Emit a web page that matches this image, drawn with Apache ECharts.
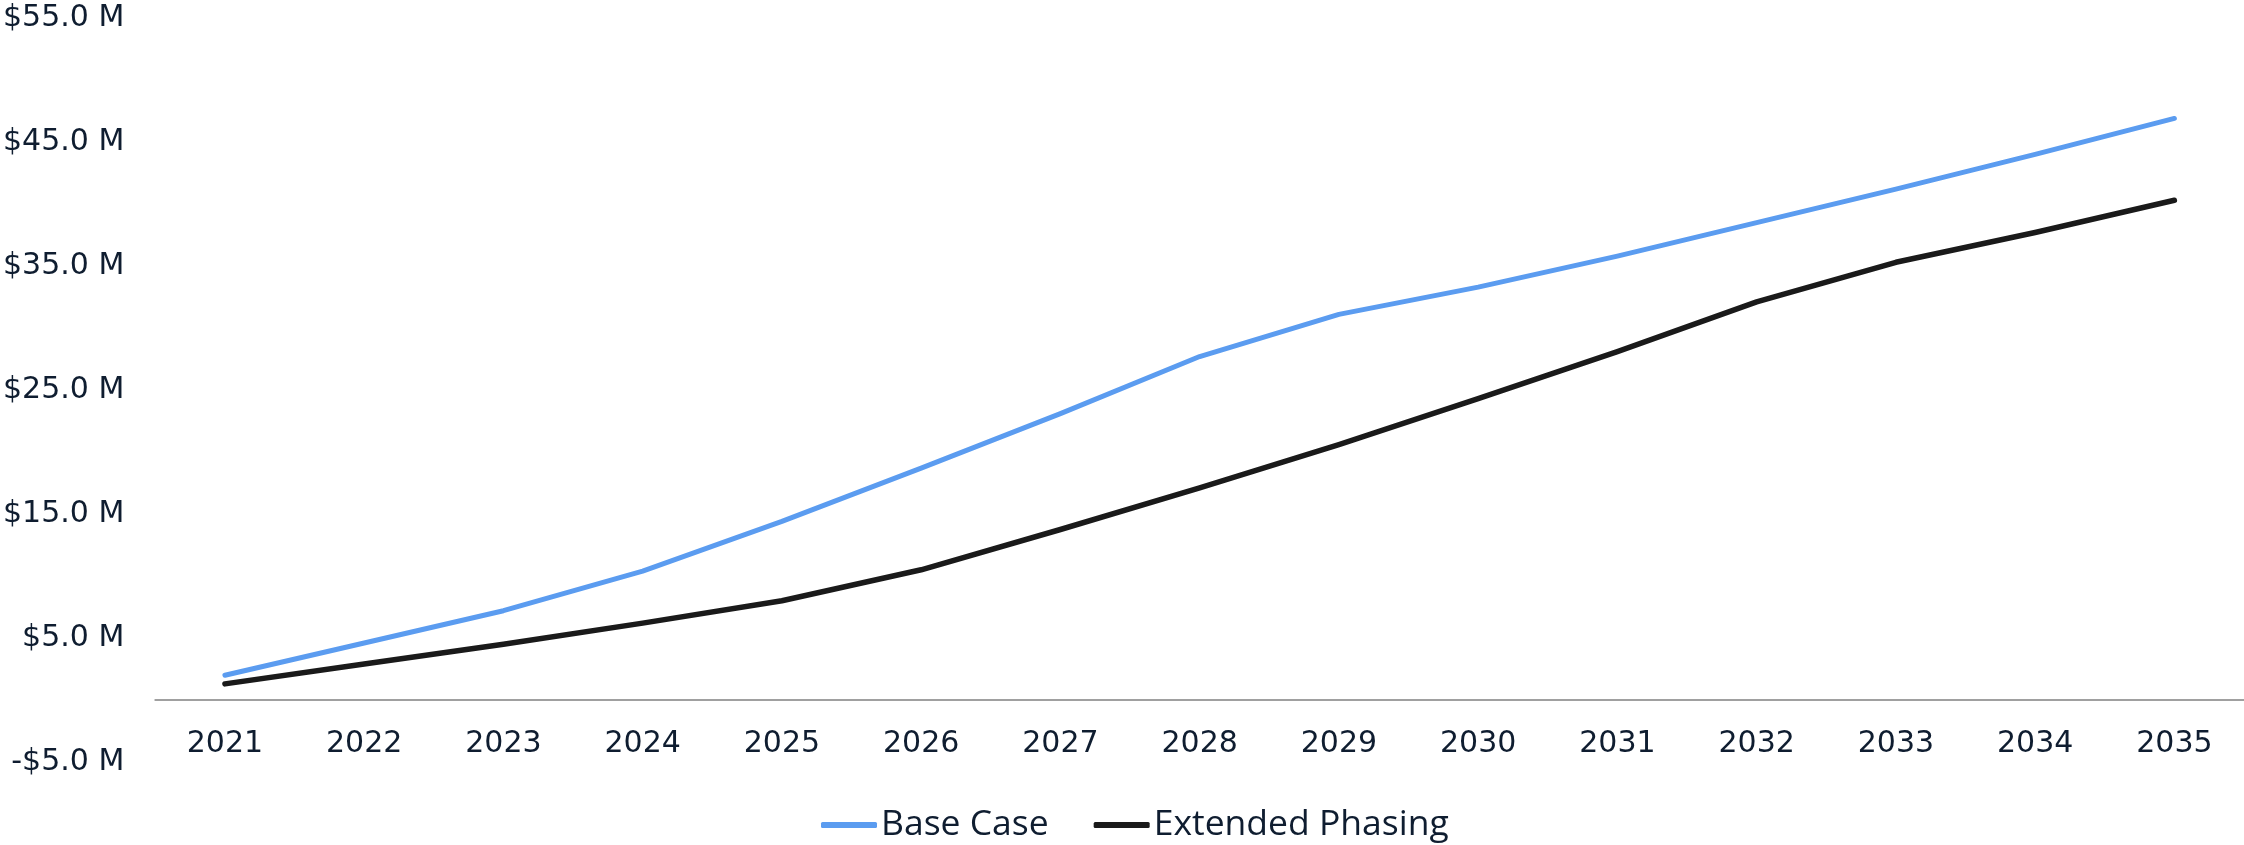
<!DOCTYPE html>
<html>
<head>
<meta charset="utf-8">
<style>
  html, body { margin: 0; padding: 0; background: #ffffff; }
  #chart { width: 2244px; height: 845px; }
</style>
<script src="https://cdn.jsdelivr.net/npm/echarts@6/dist/echarts.min.js"></script>
</head>
<body>
<div id="chart"></div>
<script>
// Cumulative value by year, in $ millions
const years = ['2021', '2022', '2023', '2024', '2025', '2026', '2027', '2028',
               '2029', '2030', '2031', '2032', '2033', '2034', '2035'];
const baseCase = [2.0, 4.6, 7.2, 10.4, 14.4, 18.7, 23.1, 27.7,
                  31.1, 33.3, 35.8, 38.5, 41.2, 44.0, 46.9];
const extendedPhasing = [1.3, 2.9, 4.5, 6.2, 8.0, 10.5, 13.75, 17.1,
                         20.6, 24.3, 28.1, 32.1, 35.3, 37.7, 40.3];
const yTicks = [-5, 5, 15, 25, 35, 45, 55];

const textColor = '#0f1d30';
const labelFont = '"DejaVu Sans", Lato, sans-serif';

const chart = echarts.init(document.getElementById('chart'), null, { renderer: 'canvas' });

chart.setOption({
  animation: false,
  backgroundColor: '#ffffff',
  grid: { left: 154, right: 0, top: 18, bottom: 83, containLabel: false },
  legend: {
    top: 807,
    left: 821,
    padding: 0,
    itemWidth: 56,
    itemHeight: 6,
    itemGap: 45,
    icon: 'roundRect',
    textStyle: {
      color: textColor,
      fontSize: 35.5,
      fontFamily: '"Open Sans", sans-serif',
      padding: [0, 0, 0, -1]
    },
    data: ['Base Case', 'Extended Phasing']
  },
  xAxis: {
    type: 'category',
    data: years,
    boundaryGap: true,
    axisLine: { show: true, onZero: true, lineStyle: { color: '#a0a0a0', width: 2 } },
    axisTick: { show: false },
    splitLine: { show: false },
    axisLabel: {
      color: textColor,
      fontSize: 30,
      fontFamily: labelFont,
      margin: -33
    }
  },
  yAxis: {
    type: 'value',
    min: -5,
    max: 55,
    axisLine: { show: false },
    axisTick: { show: false },
    splitLine: { show: false },
    axisLabel: {
      customValues: yTicks,
      color: textColor,
      fontSize: 30,
      fontFamily: labelFont,
      margin: 31,
      formatter: v => (v < 0 ? '-$' : '$') + Math.abs(v).toFixed(1) + ' M'
    }
  },
  series: [
    {
      name: 'Base Case',
      type: 'line',
      data: baseCase,
      symbol: 'none',
      smooth: false,
      itemStyle: { color: '#5b9cf0' },
      lineStyle: { color: '#5b9cf0', width: 5, cap: 'round', join: 'round' }
    },
    {
      name: 'Extended Phasing',
      type: 'line',
      data: extendedPhasing,
      symbol: 'none',
      smooth: false,
      itemStyle: { color: '#1a1a1a' },
      lineStyle: { color: '#1a1a1a', width: 5.5, cap: 'round', join: 'round' }
    }
  ]
});
</script>
</body>
</html>
